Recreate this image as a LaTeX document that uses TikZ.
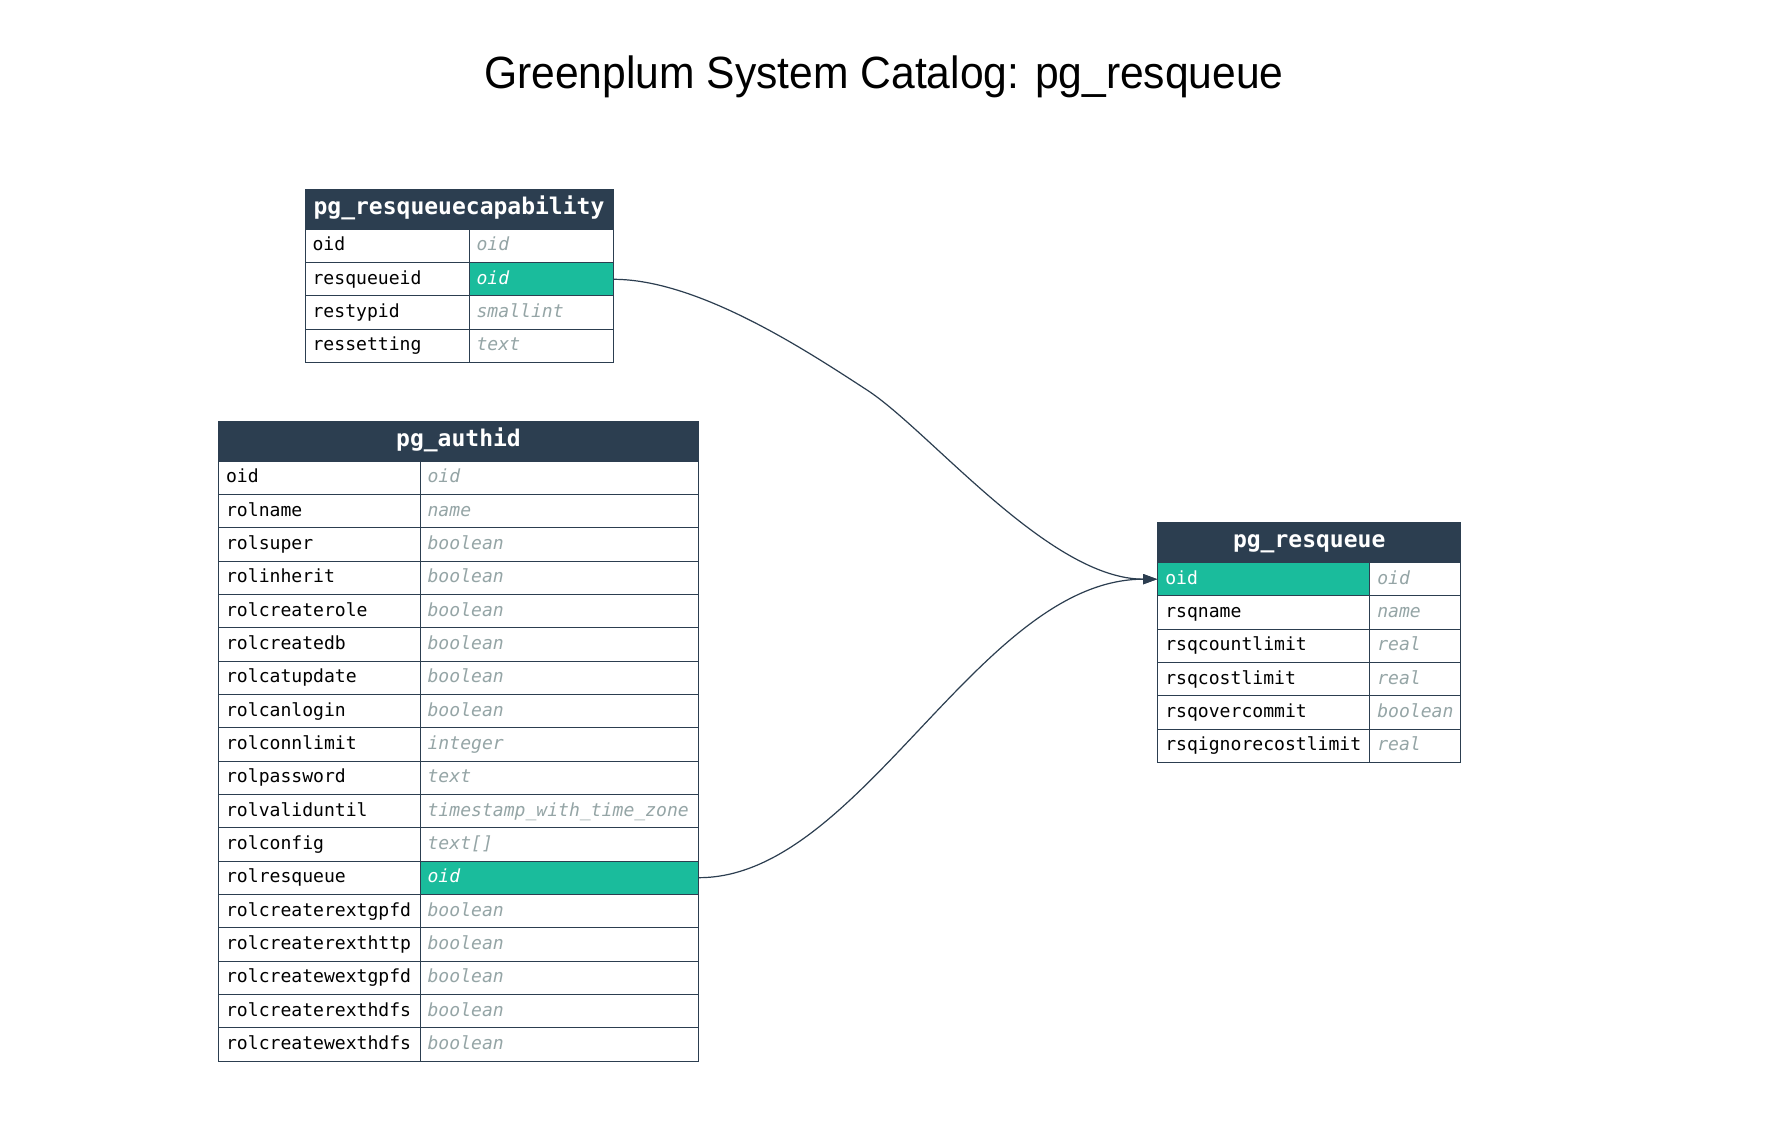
\documentclass[tikz,border=0pt]{standalone}
\usepackage{fontspec}
\setmainfont{Liberation Sans}
\newfontfamily\dbmono{DejaVu Sans Mono}
\usetikzlibrary{arrows.meta}
\definecolor{dbdark}{HTML}{2C3E50}
\definecolor{dbteal}{HTML}{1ABC9C}
\definecolor{dbgray}{HTML}{95A5A6}
\tikzset{
 cellbase/.style={draw=dbdark, line width=0.5pt, rectangle, inner xsep=3.8pt, inner ysep=0pt,
   minimum height=16.667pt, text height=6.5pt, text depth=1.5pt, align=left},
 nm/.style={cellbase, fill=white, text=black, font=\dbmono\fontsize{9.04pt}{11pt}\selectfont},
 nmhl/.style={cellbase, fill=dbteal, text=white, font=\dbmono\fontsize{9.04pt}{11pt}\selectfont},
 tp/.style={cellbase, fill=white, text=dbgray, font=\dbmono\fontsize{9.04pt}{11pt}\selectfont\itshape},
 tphl/.style={cellbase, fill=dbteal, text=white, font=\dbmono\fontsize{9.04pt}{11pt}\selectfont\itshape},
 hdr/.style={draw=dbdark, fill=dbdark, line width=0.5pt, text=white, minimum height=20pt,
   inner sep=0pt, text height=7.5pt, text depth=2.5pt,
   font=\dbmono\fontsize{11.5pt}{13pt}\selectfont\bfseries},
 fk/.style={draw=dbdark, line width=0.6pt, -{Triangle[length=7pt,width=5pt]}},
 titlestyle/.style={anchor=base, inner sep=0pt, font=\fontsize{21.3pt}{26pt}\selectfont},
}
\newcommand\dbtable[7]{%
  \pgfmathsetmacro\dbwa{(#3-#2)*0.5-7.6}%
  \pgfmathsetmacro\dbwb{(#4-#3)*0.5-7.6}%
  \pgfmathsetmacro\dbwt{(#4-#2)*0.5}%
  \node[hdr, minimum width=\dbwt pt] (#1-h) at ({(#2+#4)/2},{#5+20}) {#6};
  \foreach \n/\t/\hl [count=\i from 0] in {#7} {
    \pgfmathsetmacro\yc{#5+40+33.333*\i+16.667}
    \ifnum\hl=1 \def\nst{nmhl}\else\def\nst{nm}\fi
    \ifnum\hl=2 \def\tst{tphl}\else\def\tst{tp}\fi
    \node[\nst, text width=\dbwa pt] (#1-n\i) at ({(#2+#3)/2},\yc) {\n};
    \node[\tst, text width=\dbwb pt] (#1-t\i) at ({(#3+#4)/2},\yc) {\t};
  }
}
\begin{document}
\begin{tikzpicture}[x=0.5pt, y=-0.5pt]
\useasboundingbox[fill=white] (0,0) rectangle (1768,1136);
\node[titlestyle] (title) at (884,88.5) {\scalebox{1}[1.06]{Greenplum System Catalog: pg\_resqueue}};

\dbtable{cap}{305}{469}{613}{189.3}{pg\_resqueuecapability}{%
 oid/oid/0, resqueueid/oid/2, restypid/smallint/0, ressetting/text/0}

\dbtable{auth}{218.5}{420}{698.5}{421}{pg\_authid}{%
 oid/oid/0, rolname/name/0, rolsuper/boolean/0, rolinherit/boolean/0,
 rolcreaterole/boolean/0, rolcreatedb/boolean/0, rolcatupdate/boolean/0,
 rolcanlogin/boolean/0, rolconnlimit/integer/0, rolpassword/text/0,
 rolvaliduntil/timestamp\_with\_time\_zone/0, rolconfig/text[]/0,
 rolresqueue/oid/2, rolcreaterextgpfd/boolean/0, rolcreaterexthttp/boolean/0,
 rolcreatewextgpfd/boolean/0, rolcreaterexthdfs/boolean/0, rolcreatewexthdfs/boolean/0}

\dbtable{rq}{1157.7}{1369.7}{1460.7}{522.5}{pg\_resqueue}{%
 oid/oid/1, rsqname/name/0, rsqcountlimit/real/0, rsqcostlimit/real/0,
 rsqovercommit/boolean/0, rsqignorecostlimit/real/0}

\coordinate (bend1) at (867,390);
\draw[fk] (cap-t1.east) .. controls +(86,0) and +(-57,-37) .. (bend1)
   .. controls +(63,41) and +(-108,0) .. (rq-n0.west);
\draw[fk] (auth-t12.east) .. controls +(162,0) and +(-178,0) .. (rq-n0.west);
\end{tikzpicture}
\end{document}
